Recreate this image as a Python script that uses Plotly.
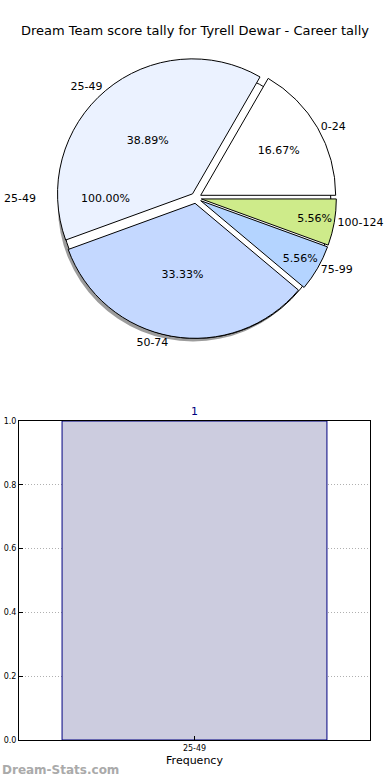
import plotly.graph_objects as go

# ---- data ----
pie_labels = ["0-24", "25-49", "50-74", "75-99", "100-124"]
pie_values = [3, 7, 6, 1, 1]
pie_colors = ["#ffffff", "#ebf2ff", "#c4d8ff", "#b4d4ff", "#ceeb8a"]
whole_label = ["25-49"]
whole_value = [1]
bar_categories = ["25-49"]
bar_values = [1]
title_text = "Dream Team score tally for Tyrell Dewar - Career tally"

W, H = 390, 780
pull = 0.04
explode = [pull] * len(pie_values)

# pie domain (paper coords)
cx, cy, r = 196 / W, 1 - 198 / H, 135
hw = r * (1 + pull) / W
hh = r * (1 + pull) / H
dom = dict(x=[cx - hw, cx + hw], y=[cy - hh, cy + hh])
sdx, sdy = -3 / W, -3 / H
shadow_dom = dict(x=[dom["x"][0] + sdx, dom["x"][1] + sdx], y=[dom["y"][0] + sdy, dom["y"][1] + sdy])

fig = go.Figure()

# shadow
fig.add_trace(go.Pie(
    labels=whole_label, values=whole_value, domain=shadow_dom, sort=False,
    marker=dict(colors=["rgba(90,90,90,0.6)"], line=dict(width=0)),
    textinfo="none", hoverinfo="skip", showlegend=False, pull=[pull],
))
# full 100% disc
fig.add_trace(go.Pie(
    labels=whole_label, values=whole_value, domain=dom, sort=False,
    marker=dict(colors=["#ffffff"], line=dict(color="black", width=1)),
    textinfo="none", hoverinfo="skip", showlegend=False, pull=[pull],
))
# main pie with percentages
fig.add_trace(go.Pie(
    labels=pie_labels, values=pie_values, domain=dom, sort=False,
    direction="counterclockwise", rotation=30, pull=explode,
    marker=dict(colors=pie_colors, line=dict(color="black", width=1)),
    texttemplate="%{percent:.2%}", textposition="inside",
    insidetextorientation="horizontal",
    textfont=dict(family="DejaVu Sans", size=11, color="black"),
    showlegend=False,
))
# category labels outside
fig.add_trace(go.Pie(
    labels=pie_labels, values=pie_values, domain=dom, sort=False,
    direction="counterclockwise", rotation=30, pull=explode,
    marker=dict(colors=["rgba(0,0,0,0)"] * 5, line=dict(width=0)),
    texttemplate="%{label}", textposition="outside", automargin=False,
    textfont=dict(family="DejaVu Sans", size=11, color="black"),
    showlegend=False, hoverinfo="skip",
))

# bar
fig.add_trace(go.Bar(
    x=bar_categories, y=bar_values, width=0.8,
    marker=dict(color="#ccccdf", line=dict(color="#000080", width=1)),
    text=[str(v) for v in bar_values], textposition="outside",
    textfont=dict(family="DejaVu Sans", size=11, color="#000080"),
    cliponaxis=False, showlegend=False,
))

fig.update_layout(
    width=W, height=H, autosize=False,
    margin=dict(l=0, r=0, t=0, b=0, pad=0, autoexpand=False),
    paper_bgcolor="white", plot_bgcolor="white",
    font=dict(family="DejaVu Sans", color="black"),
    title=dict(text=title_text, x=0.5, xanchor="center", y=1 - 30 / H, yanchor="middle",
               font=dict(size=13, family="DejaVu Sans", color="black")),
    xaxis=dict(domain=[19 / W, 370 / W], range=[-0.53, 0.53], showline=True, mirror=True,
               automargin=False,
               linecolor="black", linewidth=1, ticks="inside", ticklen=4, tickcolor="black",
               showgrid=True, gridcolor="#b0b0b0", griddash="1px,2px", gridwidth=1,
               tickfont=dict(size=8, family="DejaVu Sans"),
               title=dict(text="Frequency", font=dict(size=11, family="DejaVu Sans"), standoff=4)),
    yaxis=dict(domain=[1 - 740 / H, 1 - 421 / H], range=[0, 1], showline=True, mirror=True,
               automargin=False,
               linecolor="black", linewidth=1, ticks="inside", ticklen=4, tickcolor="black",
               tickvals=[0, 0.2, 0.4, 0.6, 0.8, 1.0], ticktext=["0.0", "0.2", "0.4", "0.6", "0.8", "1.0"],
               showgrid=True, gridcolor="#b0b0b0", griddash="1px,2px", gridwidth=1,
               zeroline=False, tickfont=dict(size=8, family="DejaVu Sans")),
    annotations=[
        dict(text="25-49", x=20 / W, y=1 - 198 / H, xref="paper", yref="paper",
             xanchor="center", yanchor="middle",
             showarrow=False, font=dict(size=11, family="DejaVu Sans")),
        dict(text="100.00%", x=105 / W, y=1 - 198 / H, xref="paper", yref="paper",
             xanchor="center", yanchor="middle",
             showarrow=False, font=dict(size=11, family="DejaVu Sans")),
        dict(text="<b>Dream-Stats.com</b>", x=0, y=1 - 770 / H, xref="paper", yref="paper",
             xanchor="left", yanchor="middle", showarrow=False,
             font=dict(size=12, family="DejaVu Sans", color="#aaaaaa")),
    ],
)

fig.write_html("out.html", config={"displayModeBar": False, "responsive": False},
               post_script="document.body.style.margin='0px';document.body.style.overflow='hidden';")
